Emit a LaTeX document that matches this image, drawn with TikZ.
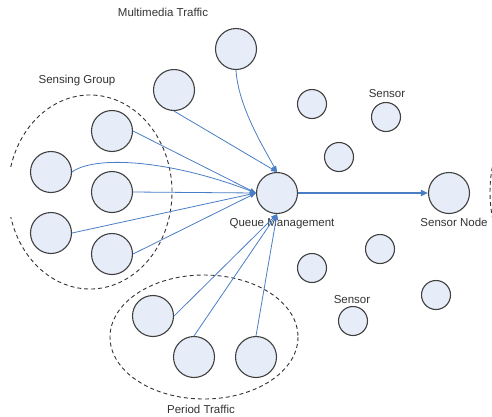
\documentclass[tikz,border=0pt]{standalone}
\usepackage{fontspec}
\setmainfont{Liberation Sans}
\usetikzlibrary{arrows.meta}
\definecolor{nodefill}{HTML}{E6ECF8}
\definecolor{flowblue}{HTML}{4A7EC4}
\begin{document}
\begin{tikzpicture}[x=1pt,y=-1pt,
  bignode/.style={circle,draw=black!75,line width=1.1pt,fill=nodefill,inner sep=0pt,minimum size=41pt},
  sensornode/.style={bignode,minimum size=29pt},
  flow/.style={draw=flowblue,line width=0.8pt,-{Triangle[length=6pt,width=4.5pt]}},
  mainflow/.style={draw=flowblue,line width=1.6pt,-{Triangle[length=7pt,width=6pt]}},
  groupline/.style={draw=black!80,line width=0.9pt,dash pattern=on 4pt off 3pt},
  lbl/.style={font=\fontsize{11.5}{13}\selectfont,text=black!80,inner sep=0pt}]
\useasboundingbox (0,0) rectangle (492,416);

% group outlines
\draw[groupline] (90,192) ++(-165:82 and 97)
  arc[start angle=-165,end angle=165,x radius=82,y radius=97];
\draw[groupline] (204,337) ellipse[x radius=94,y radius=62];
\begin{scope}
  \clip (0,0) rectangle (492,416);
  \draw[groupline] (550,192) ellipse[x radius=60,y radius=90];
\end{scope}

% sensing group
\node[bignode] (s1) at (112,131) {};
\node[bignode] (s2) at (51,172) {};
\node[bignode] (s3) at (112,192) {};
\node[bignode] (s4) at (51,233) {};
\node[bignode] (s5) at (112,254) {};

% multimedia traffic
\node[bignode] (m1) at (174,90) {};
\node[bignode] (m2) at (236,49) {};

% period traffic
\node[bignode] (p1) at (153,316) {};
\node[bignode] (p2) at (194,357) {};
\node[bignode] (p3) at (256,357) {};

% queue and sink
\node[bignode] (q) at (277,193) {};
\node[bignode] (sink) at (449,193) {};

% scattered sensors
\node[sensornode] (a1) at (312,104) {};
\node[sensornode] (a2) at (386,117) {};
\node[sensornode] (a3) at (339,157) {};
\node[sensornode] (a4) at (380,249) {};
\node[sensornode] (a5) at (312,268) {};
\node[sensornode] (a6) at (436,295) {};
\node[sensornode] (a7) at (353,321) {};

% labels
\node[lbl] (lmm) at (163,12) {Multimedia Traffic};
\node[lbl] (lsg) at (77,81) {Sensing Group};
\node[lbl] (ls1) at (387,94) {Sensor};
\node[lbl] (lq) at (282,224) {Queue Management};
\node[lbl] (lsn) at (454,222) {Sensor Node};
\node[lbl] (ls2) at (352,300) {Sensor};
\node[lbl] (lpt) at (201,409) {Period Traffic};

% flows into the queue
\draw[flow] (m2.south) .. controls (238,105) and (262,145) .. (q.north);
\draw[flow] (m1.south) -- (q.north);
\draw[flow] (s1.east) -- (q.west);
\draw[flow] (s2.east) .. controls (95,155) and (170,160) .. (q.west);
\draw[flow] (s3.east) -- (q.west);
\draw[flow] (s4.east) -- (q.west);
\draw[flow] (s5.east) -- (q.west);
\draw[flow] (p1.east) -- (q.south);
\draw[flow] (p2.north) -- (q.south);
\draw[flow] (p3.north) -- (q.south);

% queue to sensor node
\draw[mainflow] (q.east) -- (sink.west);
\end{tikzpicture}
\end{document}
